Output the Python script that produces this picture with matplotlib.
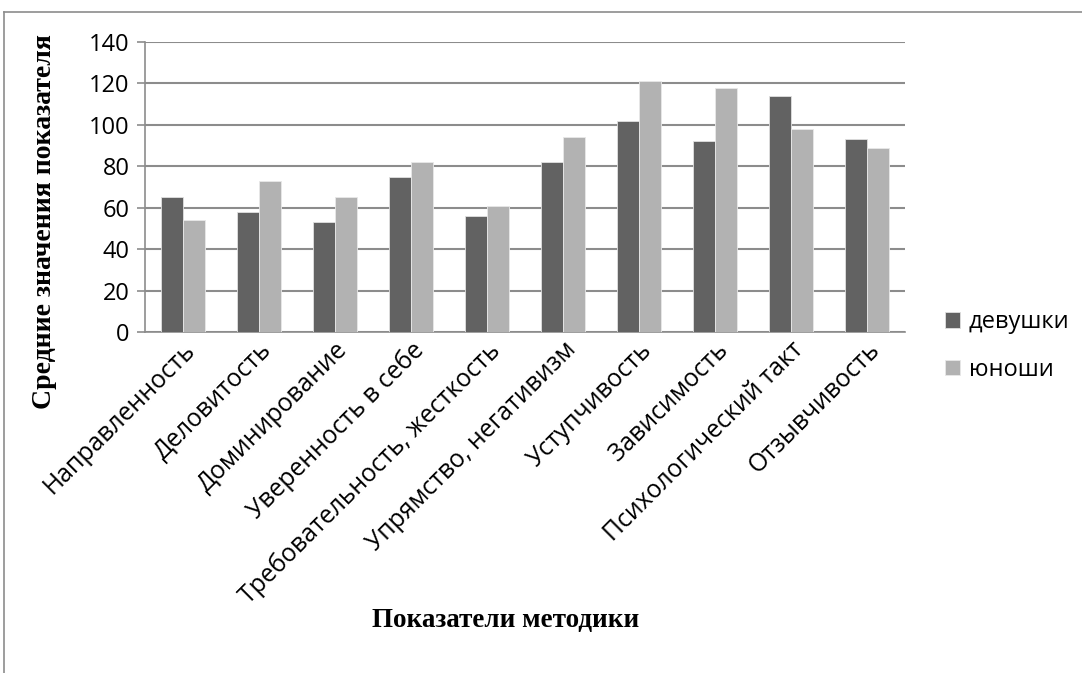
import numpy as np
import matplotlib
matplotlib.use("Agg")
import matplotlib.pyplot as plt
from matplotlib.lines import Line2D

# данные
categories = ["Направленность", "Деловитость", "Доминирование", "Уверенность в себе",
              "Требовательность, жесткость", "Упрямство, негативизм", "Уступчивость",
              "Зависимость", "Психологический такт", "Отзывчивость"]
girls = [65, 58, 53, 75, 56, 82, 102, 92, 114, 93]
boys = [54, 73, 65, 82, 61, 94, 121, 118, 98, 89]
series_names = ["девушки", "юноши"]
yticks = [0, 20, 40, 60, 80, 100, 120, 140]

plt.rcParams['font.family'] = ['Open Sans', 'DejaVu Sans']
W, H = 1082, 673
fig = plt.figure(figsize=(W / 100, H / 100), dpi=100)
ax = fig.add_axes([145 / W, 1 - 332 / H, (905 - 145) / W, (332 - 42) / H])

x = np.arange(len(categories))
bw = 0.283
ax.bar(x - bw / 2, girls, bw, color="#626262", edgecolor="#e0e0e0", linewidth=0.6,
       label=series_names[0], zorder=3)
ax.bar(x + bw / 2, boys, bw, color="#b2b2b2", edgecolor="#e8e8e8", linewidth=0.6,
       label=series_names[1], zorder=3)

ax.set_xlim(-0.5, len(categories) - 0.5)
ax.set_ylim(0, 140)
ax.set_yticks(yticks)
ax.yaxis.grid(True, color="#8c8c8c", linewidth=1.5, zorder=0)
ax.set_axisbelow(True)

for s in ["top", "right"]:
    ax.spines[s].set_visible(False)
for s in ["left", "bottom"]:
    ax.spines[s].set_color("#8c8c8c")
    ax.spines[s].set_linewidth(1.2)

ax.tick_params(axis="y", colors="#8c8c8c", labelcolor="black", labelsize=17,
               length=6, width=1.2, pad=5)
ax.tick_params(axis="x", length=0, pad=4)
ax.set_xticks(x)
ax.set_xticklabels(categories, rotation=45, ha="right", va="top",
                   rotation_mode="anchor", fontsize=17.8)
for lbl in ax.get_xticklabels():
    lbl.set_x(lbl.get_position()[0])

ax.set_ylabel("Средние значения показателя", family="Liberation Serif",
              fontweight="bold", fontsize=20)
ax.yaxis.set_label_coords(57 / W, 1 - 222 / H, transform=fig.transFigure)
ax.set_xlabel("Показатели методики", family="Liberation Serif",
              fontweight="bold", fontsize=19.5)
ax.xaxis.set_label_coords(506 / W, 1 - 620 / H, transform=fig.transFigure)
ax.xaxis.label.set_va("center")

fig.legend(loc="center left", bbox_to_anchor=(945 / W, 1 - 346 / H), frameon=False,
           fontsize=17, handlelength=0.65, handleheight=0.65, handletextpad=0.35,
           labelspacing=1.0, borderpad=0, borderaxespad=0)

# рамка области диаграммы
fig.add_artist(Line2D([4 / W, 4 / W], [0, 1 - 12 / H], transform=fig.transFigure,
                      color="#8c8c8c", linewidth=1.2))
fig.add_artist(Line2D([4 / W, 1], [1 - 12 / H, 1 - 12 / H], transform=fig.transFigure,
                      color="#8c8c8c", linewidth=1.2))

fig.savefig("out.png", dpi=100)
